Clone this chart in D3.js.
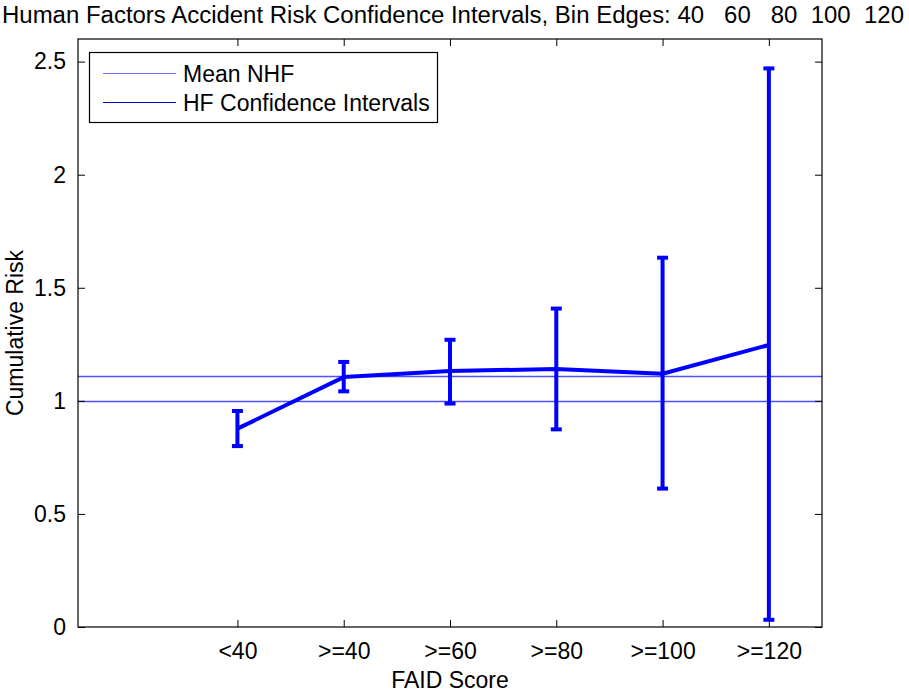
<!DOCTYPE html>
<html>
<head>
<meta charset="utf-8">
<script src="https://d3js.org/d3.v7.min.js"></script>
<style>
  body{margin:0;background:#fff;}
  text{font-family:"Liberation Sans",Arial,Helvetica,sans-serif;fill:#000;}
</style>
</head>
<body>
<svg id="canvas" width="909" height="694"></svg>
<script>

// chart values
var categories=["<40",">=40",">=60",">=80",">=100",">=120"];
var risk_mean=[0.877,1.105,1.132,1.141,1.12,1.247];
var risk_low=[0.80,1.042,0.988,0.874,0.612,0.032];
var risk_high=[0.955,1.172,1.27,1.408,1.633,2.47];
var nhf_lines=[1.0,1.112];
var y_ticks=[0,0.5,1,1.5,2,2.5];
var legend_labels=["Mean NHF","HF Confidence Intervals"];
var title_text="Human Factors Accident Risk Confidence Intervals, Bin Edges: 40   60   80  100  120";

var canvas=d3.select("#canvas")

var plot_left=78, plot_right=822, plot_top=39, plot_bottom=627
var tick_len=7
var font_size=23

var x=d3.scaleLinear().domain([-0.5,6.5]).range([plot_left,plot_right])
var y=d3.scaleLinear().domain([0,2.6]).range([plot_bottom,plot_top])

canvas.append("rect")
    .attr("width",909).attr("height",694).style("fill","#fff")

// mean NHF lines (snapped to the pixel grid so they stay thin)
canvas.selectAll("line.nhf").data(nhf_lines).enter().append("line")
    .attr("class","nhf")
    .attr("x1",plot_left).attr("x2",plot_right)
    .attr("y1",function(d){return Math.round(y(d))+0.5})
    .attr("y2",function(d){return Math.round(y(d))+0.5})
    .style("stroke","#4f4fff").style("stroke-width",1.3)

// connecting line through the means
var line=d3.line()
    .x(function(d,i){return x(i+1)})
    .y(function(d){return y(d)})

canvas.append("path")
    .attr("d",line(risk_mean))
    .style("fill","none").style("stroke","#0000ff").style("stroke-width",4)
    .style("stroke-linejoin","round")

// error bars
for (var i=0;i<categories.length;i++){
    var cx=x(i+1)
    canvas.append("line")
        .attr("x1",cx).attr("x2",cx)
        .attr("y1",y(risk_low[i])).attr("y2",y(risk_high[i]))
        .style("stroke","#0000ff").style("stroke-width",4)
    canvas.append("line")
        .attr("x1",cx-5.5).attr("x2",cx+5.5)
        .attr("y1",y(risk_low[i])).attr("y2",y(risk_low[i]))
        .style("stroke","#0000ff").style("stroke-width",4)
    canvas.append("line")
        .attr("x1",cx-5.5).attr("x2",cx+5.5)
        .attr("y1",y(risk_high[i])).attr("y2",y(risk_high[i]))
        .style("stroke","#0000ff").style("stroke-width",4)
}

// axes, ticks pointing inwards like matlab
var xAxisB=d3.axisBottom(x).tickValues(d3.range(1,categories.length+1))
    .tickFormat(function(d){return categories[d-1]})
    .tickSizeInner(-tick_len).tickSizeOuter(0).tickPadding(16)
var xAxisT=d3.axisTop(x).tickValues(d3.range(1,categories.length+1))
    .tickFormat("").tickSizeInner(-tick_len).tickSizeOuter(0)
var yAxisL=d3.axisLeft(y).tickValues(y_ticks).tickFormat(d3.format("~g"))
    .tickSizeInner(-tick_len).tickSizeOuter(0).tickPadding(12)
var yAxisR=d3.axisRight(y).tickValues(y_ticks).tickFormat("")
    .tickSizeInner(-tick_len).tickSizeOuter(0)

canvas.append("g").attr("transform","translate(0,"+plot_bottom+")").call(xAxisB)
canvas.append("g").attr("transform","translate(0,"+plot_top+")").call(xAxisT)
canvas.append("g").attr("transform","translate("+plot_left+",0)").call(yAxisL)
canvas.append("g").attr("transform","translate("+plot_right+",0)").call(yAxisR)

canvas.selectAll(".domain").remove()
canvas.selectAll(".tick line").style("stroke","#000").style("stroke-width",1)
canvas.selectAll(".tick text")
    .style("font-family","'Liberation Sans',Arial,sans-serif")
    .style("font-size",font_size+"px").style("fill","#000")

canvas.append("rect")
    .attr("x",plot_left).attr("y",plot_top)
    .attr("width",plot_right-plot_left).attr("height",plot_bottom-plot_top)
    .style("fill","none").style("stroke","#000").style("stroke-width",1.2)

// legend
var lg=canvas.append("g")
lg.append("rect")
    .attr("x",89.5).attr("y",52.5).attr("width",348).attr("height",70)
    .style("fill","#fff").style("stroke","#000").style("stroke-width",1.2)
var legend_colors=["#7070ff","#0000cc"]
for (var i=0;i<legend_labels.length;i++){
    var ly=73.5+i*29
    lg.append("line")
        .attr("x1",103).attr("x2",176).attr("y1",ly).attr("y2",ly)
        .style("stroke",legend_colors[i]).style("stroke-width",1.2)
    lg.append("text")
        .attr("x",183).attr("y",ly).attr("dy","0.35em")
        .style("font-size",font_size+"px")
        .text(legend_labels[i])
}

// titles
canvas.append("text")
    .attr("x",(plot_left+plot_right)/2+3).attr("y",15).attr("dy","0.35em")
    .attr("text-anchor","middle").style("font-size",font_size+"px")
    .style("white-space","pre")
    .attr("textLength",902).attr("lengthAdjust","spacingAndGlyphs")
    .text(title_text)

canvas.append("text")
    .attr("x",(plot_left+plot_right)/2).attr("y",680).attr("dy","0.35em")
    .attr("text-anchor","middle").style("font-size",font_size+"px")
    .text("FAID Score")

canvas.append("text")
    .attr("transform","translate(15,"+((plot_top+plot_bottom)/2)+") rotate(-90)")
    .attr("dy","0.35em")
    .attr("text-anchor","middle").style("font-size",font_size+"px")
    .text("Cumulative Risk")

</script>
</body>
</html>
